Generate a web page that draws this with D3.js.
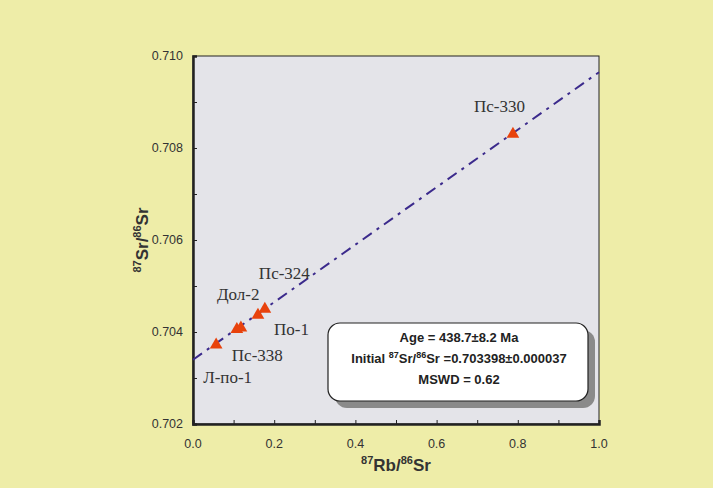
<!DOCTYPE html>
<html lang="en">
  <head>
    <meta charset="utf-8">
    <title>Rb-Sr isochron</title>
    <script src="https://d3js.org/d3.v7.min.js"></script>
    <style>
      body { margin: 0; background: #eeeda8; overflow: hidden; }
      svg { display: block; }
    </style>
  </head>

  <body>

  <script>

// Data

  var samples = ["Л-по-1", "Пс-338", "Дол-2", "По-1", "Пс-324", "Пс-330"];
  var rbsr    = [0.057, 0.108, 0.118, 0.160, 0.177, 0.788];
  var srsr    = [0.70372, 0.70406, 0.70409, 0.70437, 0.70450, 0.70830];
  // label offsets from the point, px
  var labelDx = [-13, -5, -24, 16, -6, -39];
  var labelDy = [38, 32, -28, 20, -30, -22];

  var xTicks = [0.0, 0.2, 0.4, 0.6, 0.8, 1.0];
  var yTicks = [0.702, 0.704, 0.706, 0.708, 0.710];

  var intercept = 0.703398;
  var slope = 0.00625;

  var w = 713;
  var h = 488;
  var margin = {top: 56, right: 114, bottom: 64, left: 193};
  var innerWidth = w - margin.left - margin.right;
  var innerHeight = h - margin.top - margin.bottom;

  var svg = d3.select("body")
    .append("svg")
      .attr("width", w)
      .attr("height", h);

  svg.append("rect")
      .attr("width", w)
      .attr("height", h)
      .attr("fill", "#eeeda8");

  var xScale = d3.scaleLinear()
      .domain([0, 1])
      .range([0, innerWidth]);

  var yScale = d3.scaleLinear()
      .domain([0.702, 0.710])
      .range([innerHeight, 0]);

  var g = svg.append("g")
      .attr("transform", `translate(${margin.left}, ${margin.top})`);

  g.append("rect")
      .attr("width", innerWidth)
      .attr("height", innerHeight)
      .attr("fill", "#e4e4e9")
      .attr("stroke", "#222")
      .attr("stroke-width", 1);

// axes with inner minor ticks

  var xAxis = g.append("g")
      .attr("transform", `translate(0, ${innerHeight})`)
      .call(d3.axisBottom(xScale).tickValues(d3.range(0, 1.01, 0.1))
        .tickSize(-4).tickFormat(""));
  xAxis.select(".domain").attr("stroke", "#222").attr("stroke-width", 2.5);
  xAxis.selectAll(".tick line").attr("stroke", "#222");

  var yAxis = g.append("g")
      .call(d3.axisLeft(yScale).tickValues(d3.range(0.702, 0.7105, 0.001))
        .tickSize(-4).tickFormat(""));
  yAxis.select(".domain").attr("stroke", "#222").attr("stroke-width", 2.5);
  yAxis.selectAll(".tick line").attr("stroke", "#222");

  g.selectAll(".xlab")
    .data(xTicks)
    .enter().append("text")
      .attr("x", d => xScale(d))
      .attr("y", innerHeight + 24)
      .attr("text-anchor", "middle")
      .attr("font-family", "Liberation Sans, Arial, sans-serif")
      .attr("font-size", 12.5)
      .attr("fill", "#333")
      .text(d => d.toFixed(1));

  g.selectAll(".ylab")
    .data(yTicks)
    .enter().append("text")
      .attr("x", -10)
      .attr("y", d => yScale(d) + 4)
      .attr("text-anchor", "end")
      .attr("font-family", "Liberation Sans, Arial, sans-serif")
      .attr("font-size", 12.5)
      .attr("fill", "#333")
      .text(d => d.toFixed(3));

// isochron line

  g.append("line")
      .attr("x1", xScale(0))
      .attr("y1", yScale(intercept))
      .attr("x2", xScale(1))
      .attr("y2", yScale(intercept + slope))
      .attr("stroke", "#3b2a8c")
      .attr("stroke-width", 2)
      .attr("stroke-dasharray", "11 6 3 6");

// points

  var tri = d3.symbol().type(d3.symbolTriangle).size(70);

  g.selectAll(".pt")
    .data(rbsr)
    .enter().append("path")
      .attr("d", tri)
      .attr("transform", (d, i) => `translate(${xScale(d)}, ${yScale(srsr[i])})`)
      .attr("fill", "#e8420c");

  g.selectAll(".lab")
    .data(samples)
    .enter().append("text")
      .attr("x", (d, i) => xScale(rbsr[i]) + labelDx[i])
      .attr("y", (d, i) => yScale(srsr[i]) + labelDy[i])
      .attr("font-family", "Liberation Serif, Times New Roman, serif")
      .attr("font-size", 17)
      .attr("fill", "#333")
      .text(d => d);

// result box

  var box = svg.append("g");
  box.append("rect")
      .attr("x", 335).attr("y", 330)
      .attr("width", 260).attr("height", 78)
      .attr("rx", 12)
      .attr("fill", "#8a8a8a");
  box.append("rect")
      .attr("x", 328).attr("y", 323)
      .attr("width", 260).attr("height", 78)
      .attr("rx", 12)
      .attr("fill", "#fff")
      .attr("stroke", "#222")
      .attr("stroke-width", 1.2);

  var bt = box.append("text")
      .attr("font-family", "Liberation Sans, Arial, sans-serif")
      .attr("font-weight", "bold")
      .attr("font-size", 13)
      .attr("fill", "#222")
      .attr("text-anchor", "middle");
  bt.append("tspan").attr("x", 459).attr("y", 342).text("Age = 438.7±8.2 Ma");
  var l2 = bt.append("tspan").attr("x", 459).attr("y", 363);
  l2.append("tspan").text("Initial ");
  l2.append("tspan").attr("font-size", 9).attr("dy", -5).text("87");
  l2.append("tspan").attr("dy", 5).text("Sr/");
  l2.append("tspan").attr("font-size", 9).attr("dy", -5).text("86");
  l2.append("tspan").attr("dy", 5).text("Sr =0.703398±0.000037");
  bt.append("tspan").attr("x", 459).attr("y", 384).text("MSWD = 0.62");

// axis titles

  var xt = svg.append("text")
      .attr("x", margin.left + innerWidth / 2)
      .attr("y", 471)
      .attr("text-anchor", "middle")
      .attr("font-family", "Liberation Sans, Arial, sans-serif")
      .attr("font-weight", "bold")
      .attr("font-size", 17)
      .attr("fill", "#333");
  xt.append("tspan").attr("font-size", 11).attr("dy", -7).text("87");
  xt.append("tspan").attr("dy", 7).text("Rb/");
  xt.append("tspan").attr("font-size", 11).attr("dy", -7).text("86");
  xt.append("tspan").attr("dy", 7).text("Sr");

  var yt = svg.append("text")
      .attr("transform", `translate(148, ${margin.top + innerHeight / 2}) rotate(-90)`)
      .attr("text-anchor", "middle")
      .attr("font-family", "Liberation Sans, Arial, sans-serif")
      .attr("font-weight", "bold")
      .attr("font-size", 17)
      .attr("fill", "#333");
  yt.append("tspan").attr("font-size", 11).attr("dy", -7).text("87");
  yt.append("tspan").attr("dy", 7).text("Sr/");
  yt.append("tspan").attr("font-size", 11).attr("dy", -7).text("86");
  yt.append("tspan").attr("dy", 7).text("Sr");

  </script>

  </body>

</html>
